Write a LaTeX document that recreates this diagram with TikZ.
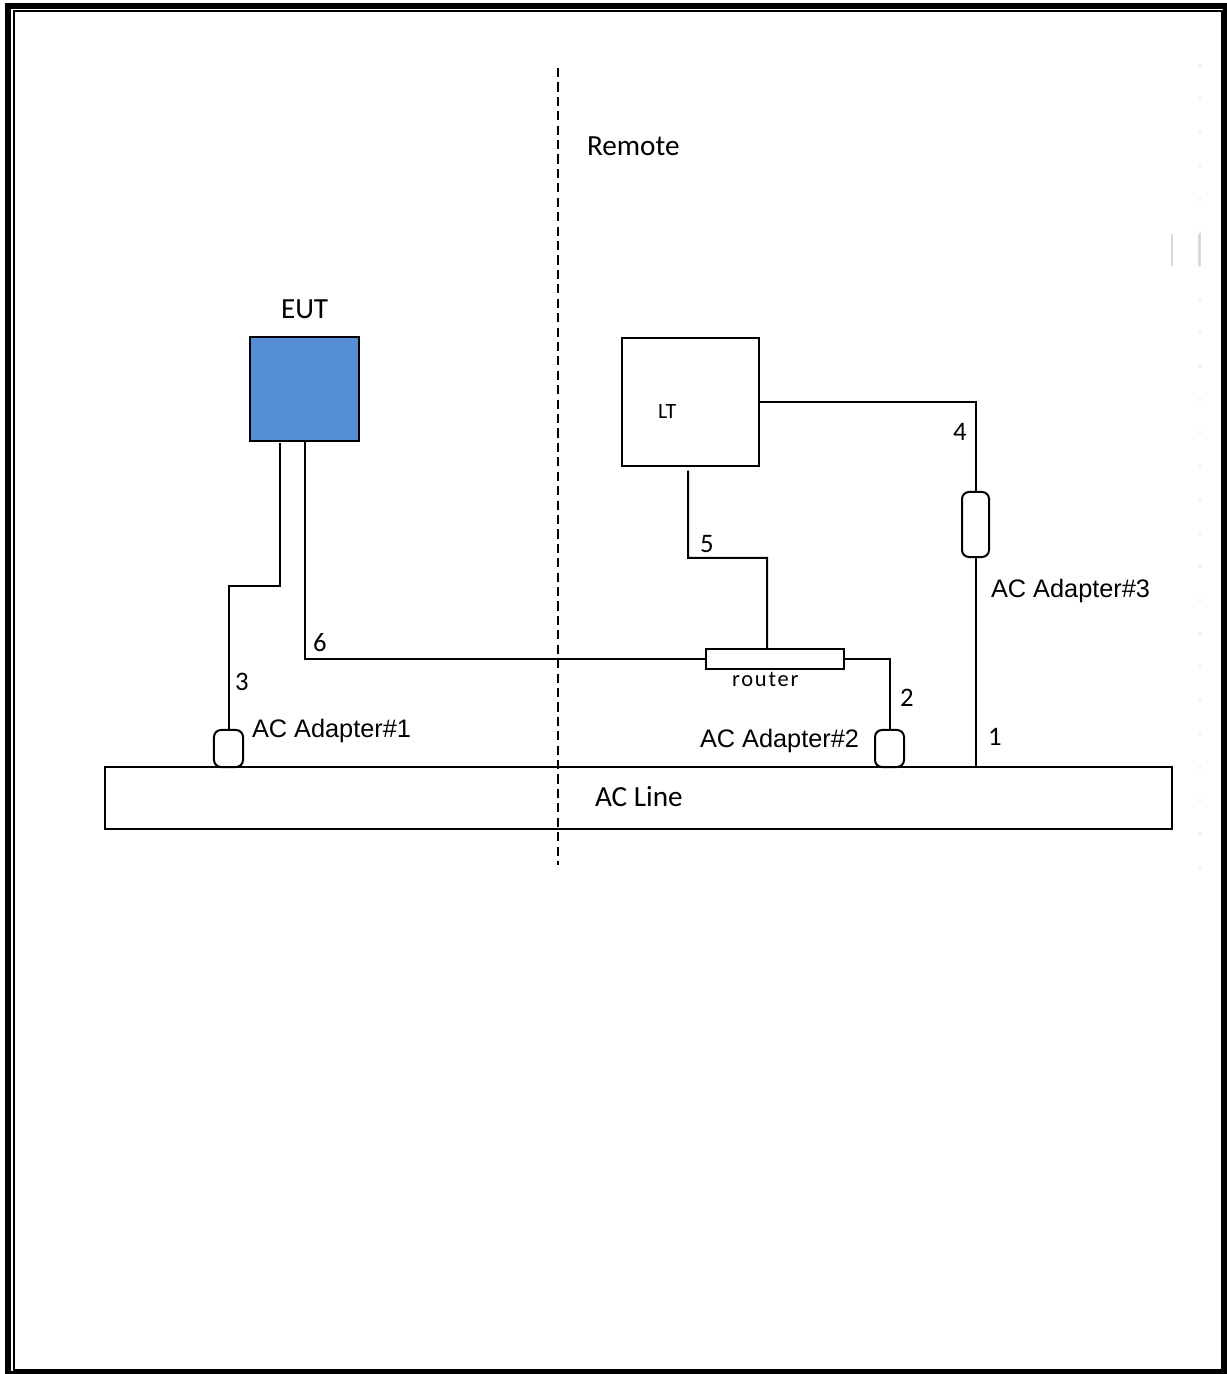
\documentclass[tikz,border=0pt]{standalone}
\usepackage{fontspec}
\setmainfont{Carlito}
\newfontfamily\arialfont{Liberation Sans}
\usetikzlibrary{positioning, calc}
\definecolor{eutblue}{HTML}{558ED5}
\definecolor{cfaint}{HTML}{D9D9D9}
\definecolor{cdots}{HTML}{EDEDED}
\tikzset{
  every picture/.style={line width=0.57pt},
  box/.style={draw, inner sep=0pt, outer sep=0pt, minimum width=#1},
  adapter/.style={draw, rounded corners=2pt, inner sep=0pt, outer sep=0pt, minimum width=0.29cm},
  wire/.style={line width=0.57pt},
  txt/.style={anchor=base west, inner sep=0pt, font=\fontsize{8.3}{10}\selectfont},
  num/.style={anchor=base west, inner sep=0pt, font=\fontsize{7.6}{9}\selectfont},
  adlbl/.style={anchor=base west, inner sep=0pt, font=\arialfont\fontsize{7.2}{9}\selectfont},
  small/.style={anchor=base west, inner sep=0pt, font=\fontsize{6.2}{8}\selectfont},
}

\begin{document}
\begin{tikzpicture}[x=0.01cm, y=-0.01cm]
  \useasboundingbox (0,0) rectangle (1226,1374);
  % page border
  \draw[line width=1.7pt] (8,6) rectangle (1226,1374);
  \draw[line width=0.57pt] (14,11) rectangle (1221.5,1369.5);
  \draw[cdots, line width=0.5pt, dash pattern=on 0.85pt off 8.65pt] (1200,64) -- (1200,870);
  \draw[cfaint, line width=0.6pt] (1172,234) -- (1172,266) (1199.5,234) -- (1199.5,266);

  \draw[dashed, dash pattern=on 2.6pt off 1.5pt] (558,68) -- (558,865);
  \node[txt] (remote) at (586,156) {Remote};

  \node[box=1.09cm, minimum height=1.04cm, fill=eutblue] (eut) at (304.5,389) {};
  \node[txt] (euttext) at (280,319) {EUT};
  \node[box=1.37cm, minimum height=1.27cm] (lt) at (690.5,402) {};
  \node[small] (lttext) at (657,419) {LT};
  \node[box=1.38cm, minimum height=0.20cm] (router) at (775,659) {};
  \node[small, font=\addfontfeature{LetterSpace=8}\fontsize{6.4}{8}\selectfont] (routertext) at (731,686) {router};
  \node[box=10.67cm, minimum height=0.62cm] (acline) at (638.5,798) {};
  \node[txt] (aclinetext) at (594,806) {AC Line};

  \node[adapter, minimum height=0.37cm] (ad1) at (228.5,748.5) {};
  \node[adapter, minimum height=0.37cm] (ad2) at (889.5,748.5) {};
  \node[adapter, minimum width=0.27cm, minimum height=0.65cm] (ad3) at (975.5,524.5) {};
  \node[adlbl] at (251,737) {AC Adapter\#1};
  \node[adlbl] at (699,747) {AC Adapter\#2};
  \node[adlbl] at (990,598) {AC Adapter\#3};

  % cables
  \coordinate (bend3) at (228.5,586);
  \coordinate (bend5) at (688,558);
  \draw[wire] ([xshift=-0.245cm, yshift=-0.02cm]eut.south) |- (bend3) -- (ad1.north);
  \draw[wire] (eut.south) |- (router.west);
  \draw[wire] (lt.east) -| (ad3.north);
  \draw[wire] (ad3.south) -- (ad3.south |- acline.north);
  \draw[wire] ([xshift=-0.025cm, yshift=-0.05cm]lt.south) -- (bend5) -| ([xshift=-0.08cm]router.north);
  \draw[wire] (router.east) -| (ad2.north);

  \node[num] at (987,745) {1};
  \node[num] at (899,706) {2};
  \node[num] at (234,691) {3};
  \node[num] at (952,441) {4};
  \node[num] at (699,553) {5};
  \node[num] at (312,652) {6};
\end{tikzpicture}
\end{document}
